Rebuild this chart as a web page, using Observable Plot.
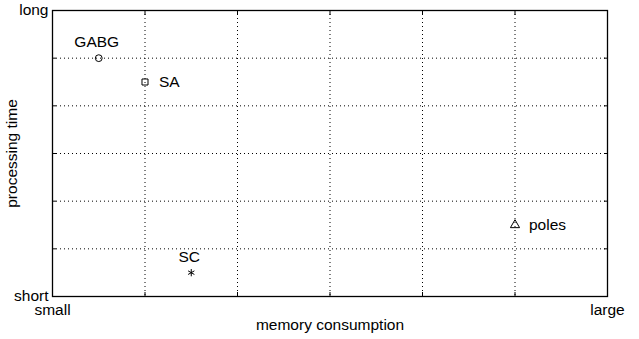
<!DOCTYPE html>
<html>
<head>
<meta charset="utf-8">
<script src="https://cdn.jsdelivr.net/npm/d3@7"></script>
<script src="https://cdn.jsdelivr.net/npm/@observablehq/plot@0.6"></script>
<style>
  html, body { margin: 0; padding: 0; background: #fff; }
  #chart svg { display: block; }
</style>
</head>
<body>
<div id="chart"></div>
<script>
// Data
const methods = ["GABG", "SA", "SC", "poles"];
const memory = [0.5, 1, 1.5, 5];          // memory consumption (0 = small, 6 = large)
const procTime = [5, 4.5, 0.5, 1.5];      // processing time (0 = short, 6 = long)
const symbols = ["circle", "square", "asterisk", "triangle"];
const xTickLabels = [{v: 0, t: "small"}, {v: 6, t: "large"}];
const yTickLabels = [{v: 0, t: "short"}, {v: 6, t: "long"}];
const gridTicks = [0, 1, 2, 3, 4, 5, 6];

const pts = methods.map((m, i) => ({name: m, x: memory[i], y: procTime[i], sym: symbols[i]}));
const above = pts.filter(d => d.name === "GABG" || d.name === "SC");
const right = pts.filter(d => d.name === "SA" || d.name === "poles");

const chart = Plot.plot({
  width: 639,
  height: 339,
  marginLeft: 52,
  marginRight: 32,
  marginTop: 10,
  marginBottom: 43,
  style: {fontFamily: "'Liberation Sans', Arial, sans-serif", fontSize: "15.5px", background: "#fff", color: "#000"},
  x: {domain: [0, 6]},
  y: {domain: [0, 6]},
  marks: [
    Plot.ruleX(gridTicks.slice(1, -1), {stroke: "#000", strokeDasharray: "1,3", strokeWidth: 1}),
    Plot.ruleY(gridTicks.slice(1, -1), {stroke: "#000", strokeDasharray: "1,3", strokeWidth: 1}),
    Plot.axisX({anchor: "bottom", ticks: gridTicks, tickSize: -4, tickFormat: () => "", stroke: "#000"}),
    Plot.axisX({anchor: "top", ticks: gridTicks, tickSize: -4, tickFormat: () => "", stroke: "#000"}),
    Plot.axisY({anchor: "left", ticks: gridTicks, tickSize: -4, tickFormat: () => "", stroke: "#000"}),
    Plot.axisY({anchor: "right", ticks: gridTicks, tickSize: -4, tickFormat: () => "", stroke: "#000"}),
    Plot.frame({stroke: "#000", strokeWidth: 1.3}),
    Plot.text(xTickLabels, {x: "v", text: "t", frameAnchor: "bottom", dy: 14, lineAnchor: "middle", textAnchor: "middle", fill: "#000"}),
    Plot.text(yTickLabels, {y: "v", text: "t", frameAnchor: "left", dx: -4, textAnchor: "end", lineAnchor: "middle", fill: "#000"}),
    Plot.text(["memory consumption"], {frameAnchor: "bottom", dy: 29, textAnchor: "middle", lineAnchor: "middle", fill: "#000"}),
    Plot.text(["processing time"], {frameAnchor: "left", dx: -40, rotate: -90, textAnchor: "middle", lineAnchor: "middle", fill: "#000"}),
    Plot.dot(pts, {x: "x", y: "y", symbol: "sym", r: 3.4, stroke: "#000", fill: "none", strokeWidth: 1}),
    Plot.text(above, {x: "x", y: "y", text: "name", dy: -16, dx: -2, textAnchor: "middle", lineAnchor: "middle", fill: "#000"}),
    Plot.text(right, {x: "x", y: "y", text: "name", dx: 14, textAnchor: "start", lineAnchor: "middle", fill: "#000"})
  ]
});
document.getElementById("chart").appendChild(chart);
</script>
</body>
</html>
